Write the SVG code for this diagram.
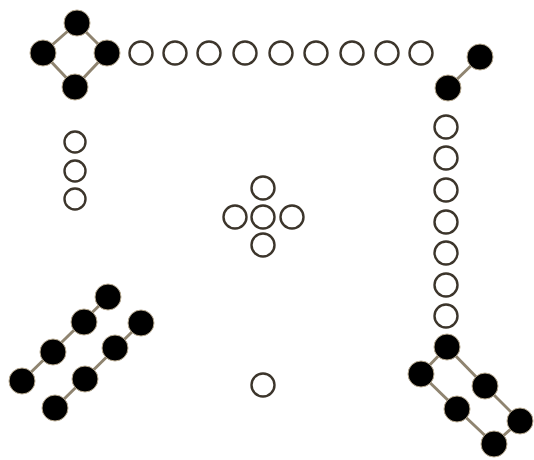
<svg xmlns="http://www.w3.org/2000/svg" width="534" height="460" viewBox="0 0 534 460">
<style>
.b{fill:#000;stroke:#b9ab92;stroke-width:1}
.h{fill:#fff;stroke:#3c352b;stroke-width:2.4}
.e{stroke:#8f8470;stroke-width:3;fill:none}
</style>
<defs>
<circle id="bc" r="13" class="b"/>
<circle id="hc" r="11.5" class="h"/>
</defs>
<rect width="534" height="460" fill="#fff"/>
<g id="connectors">
<line class="e" x1="77" y1="23" x2="43" y2="53"/>
<line class="e" x1="77" y1="23" x2="107" y2="53"/>
<line class="e" x1="43" y1="53" x2="75" y2="87"/>
<line class="e" x1="107" y1="53" x2="75" y2="87"/>
<line class="e" x1="480" y1="57" x2="448" y2="88"/>
<line class="e" x1="108" y1="297" x2="22" y2="381"/>
<line class="e" x1="141" y1="323" x2="55" y2="408"/>
<line class="e" x1="447" y1="347" x2="421" y2="374"/>
<line class="e" x1="447" y1="347" x2="485" y2="386"/>
<line class="e" x1="485" y1="386" x2="520" y2="421"/>
<line class="e" x1="421" y1="374" x2="457" y2="409"/>
<line class="e" x1="457" y1="409" x2="494" y2="444"/>
<line class="e" x1="494" y1="444" x2="520" y2="421"/>
</g>
<g id="diamond">
<use href="#bc" x="77" y="23"/><use href="#bc" x="43" y="53"/><use href="#bc" x="107" y="53"/><use href="#bc" x="75" y="87"/>
</g>
<g id="top-row">
<use href="#hc" x="141" y="53"/><use href="#hc" x="175" y="53"/><use href="#hc" x="209" y="53"/><use href="#hc" x="245" y="53"/><use href="#hc" x="281" y="53"/><use href="#hc" x="316" y="53"/><use href="#hc" x="352" y="53"/><use href="#hc" x="387" y="53"/><use href="#hc" x="421" y="53"/>
</g>
<g id="top-right-pair">
<use href="#bc" x="480" y="57"/><use href="#bc" x="448" y="88"/>
</g>
<g id="right-column">
<use href="#hc" x="446" y="127"/><use href="#hc" x="446" y="158"/><use href="#hc" x="446" y="190"/><use href="#hc" x="446" y="222"/><use href="#hc" x="446" y="253"/><use href="#hc" x="446" y="285"/><use href="#hc" x="446" y="316"/>
</g>
<g id="left-column">
<circle class="h" cx="75" cy="142" r="10.5"/><circle class="h" cx="75" cy="171" r="10.5"/><circle class="h" cx="75" cy="199" r="10.5"/>
</g>
<g id="cross">
<use href="#hc" x="263" y="188"/><use href="#hc" x="235" y="217"/><use href="#hc" x="263" y="217"/><use href="#hc" x="292" y="217"/><use href="#hc" x="263" y="245"/>
</g>
<g id="bottom-center">
<use href="#hc" x="263" y="385"/>
</g>
<g id="chain-1">
<use href="#bc" x="108" y="297"/><use href="#bc" x="84" y="322"/><use href="#bc" x="53" y="352"/><use href="#bc" x="22" y="381"/>
</g>
<g id="chain-2">
<use href="#bc" x="141" y="323"/><use href="#bc" x="115" y="348"/><use href="#bc" x="85" y="379"/><use href="#bc" x="55" y="408"/>
</g>
<g id="ring">
<use href="#bc" x="447" y="347"/><use href="#bc" x="421" y="374"/><use href="#bc" x="485" y="386"/><use href="#bc" x="457" y="409"/><use href="#bc" x="520" y="421"/><use href="#bc" x="494" y="444"/>
</g>
</svg>
